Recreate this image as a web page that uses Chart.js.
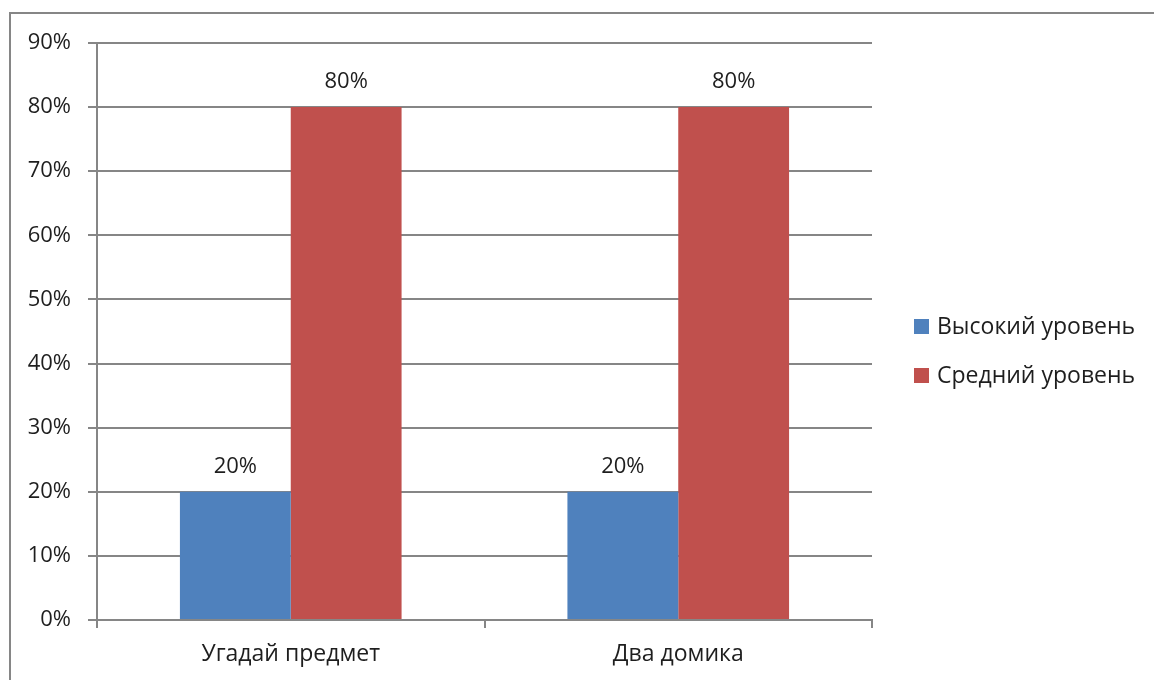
<!DOCTYPE html>
<html>
<head>
  <title>Уровни</title>
  <script src="https://cdn.jsdelivr.net/npm/chart.js"></script>
  <style>
    body {
      margin: 0;
      background: #fff;
      font-family: "Open Sans", sans-serif;
    }
    #wrap {
      position: relative;
      width: 1154px;
      height: 680px;
      overflow: hidden;
    }
    #frame {
      position: absolute;
      left: 9px;
      top: 12px;
      width: 1160px;
      height: 700px;
      border-left: 2px solid #868686;
      border-top: 2px solid #868686;
    }
    canvas {
      position: absolute;
      left: 0;
      top: 0;
    }
    #legend {
      position: absolute;
      left: 914px;
      top: 309px;
      font-size: 23px;
      color: #1e1e1e;
    }
    .item {
      height: 49px;
      display: flex;
      align-items: flex-start;
    }
    .box {
      width: 15px;
      height: 15px;
      margin: 10px 8px 0 0;
    }
  </style>
</head>
<body>
  <div id="wrap">
    <div id="frame"></div>
    <canvas id="chart" width="1154" height="680"></canvas>
    <div id="legend"></div>
  </div>

  <script>
    const categories = ["Угадай предмет", "Два домика"];
    const seriesNames = ["Высокий уровень", "Средний уровень"];
    const highLevel = [20, 20];
    const midLevel = [80, 80];
    const colors = ["#4F81BD", "#C0504D"];
    const gridColor = "#868686";
    const textColor = "#1e1e1e";
    const fontFamily = "'Open Sans', sans-serif";

    // labels above each bar
    const valueLabels = {
      id: "valueLabels",
      afterDatasetsDraw(chart) {
        const ctx = chart.ctx;
        ctx.save();
        ctx.font = "22px " + fontFamily;
        ctx.fillStyle = textColor;
        ctx.textAlign = "center";
        ctx.textBaseline = "bottom";
        chart.data.datasets.forEach((ds, i) => {
          chart.getDatasetMeta(i).data.forEach((bar, j) => {
            ctx.fillText(ds.data[j] + "%", bar.x, bar.y - 14);
          });
        });
        ctx.restore();
      }
    };

    new Chart(document.getElementById("chart"), {
      type: "bar",
      data: {
        labels: categories,
        datasets: [{
          label: seriesNames[0],
          data: highLevel,
          backgroundColor: colors[0]
        }, {
          label: seriesNames[1],
          data: midLevel,
          backgroundColor: colors[1]
        }]
      },
      options: {
        responsive: false,
        animation: false,
        devicePixelRatio: 1,
        layout: {
          padding: { left: 0, top: 43, right: 282, bottom: 0 }
        },
        datasets: {
          bar: { categoryPercentage: 0.572, barPercentage: 1 }
        },
        plugins: {
          legend: { display: false },
          tooltip: { enabled: false }
        },
        scales: {
          x: {
            afterFit(scale) { scale.height = 60; },
            grid: {
              drawOnChartArea: false,
              tickLength: 8,
              color: gridColor,
              lineWidth: 2
            },
            border: { color: gridColor, width: 2 },
            ticks: {
              padding: 13,
              color: textColor,
              font: { family: fontFamily, size: 23 }
            }
          },
          y: {
            min: 0,
            max: 90,
            afterFit(scale) { scale.width = 97; },
            grid: {
              tickLength: 9,
              color: gridColor,
              lineWidth: 2
            },
            border: { color: gridColor, width: 2 },
            ticks: {
              stepSize: 10,
              padding: 17,
              color: textColor,
              font: { family: fontFamily, size: 22 },
              callback: v => v + "%"
            }
          }
        }
      },
      plugins: [valueLabels]
    });

    const legend = document.getElementById("legend");
    seriesNames.forEach((name, i) => {
      const item = document.createElement("div");
      item.className = "item";
      item.innerHTML = '<div class="box" style="background:' + colors[i] + '"></div><span>' + name + '</span>';
      legend.appendChild(item);
    });
  </script>
</body>
</html>
